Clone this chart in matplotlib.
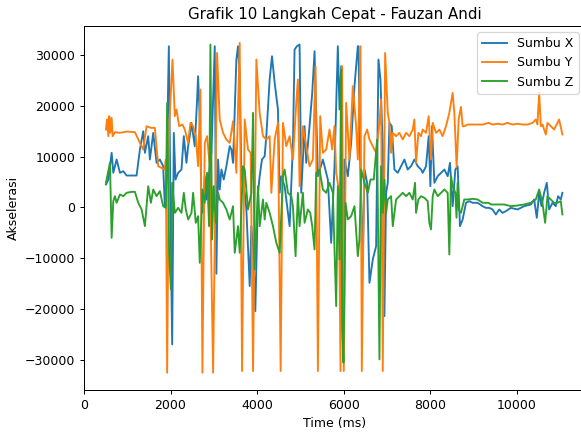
import matplotlib
matplotlib.use("Agg")
from matplotlib import pyplot as plt

# Sumbu X (biru)
t_x = [508, 562, 639, 677, 754, 831, 908, 985, 1100, 1215, 1292, 1369, 1408, 1484, 1523,
       1600, 1677, 1754, 1830, 1869, 1907, 1961, 2007, 2038, 2076, 2115, 2176, 2253, 2307,
       2368, 2407, 2445, 2484, 2560, 2614, 2637, 2676, 2714, 2753, 2791, 2830, 2907, 2945,
       3022, 3060, 3099, 3137, 3176, 3230, 3291, 3368,
       3407, 3445, 3522, 3560, 3599, 3638, 3714, 3753, 3830, 3868, 3907, 3960, 4022, 4060,
       4114, 4176, 4214, 4291, 4345, 4407, 4483, 4522, 4560, 4637, 4714, 4753, 4830,
       4867, 4921, 4983, 5021, 5098, 5137, 5213, 5275, 5329, 5406, 5521, 5636, 5713, 5790,
       5867, 5906, 5944, 5982, 6021, 6098, 6175, 6252, 6329, 6344,
       6390, 6444, 6483, 6544, 6598, 6675, 6752, 6806, 6852, 6906, 6944, 6983, 7021, 7060,
       7113, 7175, 7252, 7329, 7406, 7482, 7559, 7636, 7713, 7790,
       7829, 7906, 7967, 8006, 8044, 8098, 8175, 8252, 8329, 8406, 8459, 8521, 8583, 8636,
       8690, 8752, 8829, 8906, 8982, 9098, 9213, 9290,
       9366, 9443, 9520, 9597, 9674, 9751, 9866, 10020, 10174, 10328, 10405, 10466, 10520,
       10574, 10635, 10697, 10751, 10828, 10904, 10958, 11020, 11058]
acc_x = [4510, 5490, 10720, 6800, 9410, 6800, 7120, 6270, 6270, 6270, 11370, 14970, 10720, 13990, 9410,
         14640, 8760, 9410, 8100, 260, 6140, 31630, -6930, -26860, 14640, 5490, 6800, 7450, 13990,
         8760, 12030, 13990, 16600, 12030, 21180, 25750, 17260, 1570, -1050, 6140, 1570, 8100, 10720,
         31630, -13000, 9410, 3530, 7450, 5490, 8100, 12030,
         11370, 8760, 29020, 31630, 25750, 6140, 2880, -390, -15420, -3660, -7580, -20330, 2880, 6140,
         9410, 10070, 13990, 25100, 29670, 24440, 19220, 2880, 6140, 4180, -1050, -3660, 12680,
         30980, 31630, 31960, 2880, 15950, 8760, 15950, 22480, 30650, 6140, 9410, 5490, -6930, 8100,
         31630, 19220, 27710, -25880, 9410, 6140, 12680, 23790, 31630, 31630,
         6140, -10200, 7450, 4840, -14770, -10200, -7580, 29020, 25100, 12030, -21310, 2880, 4840, 16600,
         15950, 7450, 6800, 8100, 9410, 7450, 8100, 9410, 8100, 7450,
         6800, 8100, 13990, 4180, 15950, 4840, 6140, 6800, 7450, 6140, 8760, 260, 7450, 8100,
         -3660, -2350, 920, 1240, 920, 920, 260, -70,
         -70, -390, -1370, -390, -1050, -720, -70, -390, 260, 590, 1570, -2030, 2880,
         260, 2880, 4840, -390, 920, 260, 2220, 1570, 2880]

# Sumbu Y (oranye)
t_y = [508, 531, 562, 585, 608, 639, 662, 715, 831, 985, 1177, 1292, 1369, 1446, 1546,
       1638, 1715, 1792, 1869, 1891, 1922, 1968, 2045, 2099, 2138, 2199, 2276, 2330, 2407,
       2460, 2522, 2584, 2637, 2691, 2737, 2791, 2845, 2907, 2984, 3076, 3137, 3214, 3291,
       3368, 3445, 3522, 3599, 3653, 3714, 3791, 3853, 3907, 3984, 4060, 4137, 4214, 4291,
       4330, 4407, 4483, 4545, 4599, 4676, 4753, 4829, 4906, 4944, 4983, 5060, 5137, 5213,
       5290, 5352, 5406, 5460, 5521, 5598, 5675, 5736, 5790, 5829, 5890, 5929, 5967, 6005,
       6059, 6136, 6213, 6290, 6329, 6344, 6390, 6421, 6483, 6544, 6598, 6675, 6752, 6829,
       6867, 6906, 6960, 7021, 7060, 7098, 7137, 7214, 7290, 7367, 7444, 7521, 7598, 7636,
       7675, 7729, 7790, 7829, 7906, 7967, 8021, 8060, 8137, 8213, 8290, 8367, 8444, 8521,
       8560, 8613, 8660, 8713, 8752, 8790, 8867, 8982, 9098, 9213, 9352, 9443, 9559, 9674,
       9789, 9904, 10020, 10136, 10251, 10366, 10443, 10481, 10520, 10559, 10597, 10674,
       10712, 10789, 10866, 10943, 10981, 11058]
acc_y = [15290, 17260, 13990, 17910, 14640, 17580, 13990, 14770, 14640, 14900, 14770, 12680, 11370, 15950, 15620,
         15620, 8100, 7780, 7450, 9410, -32420, 15950, 29020, 17910, 19220, 15950, 16270, 15290, 12680,
         16600, 15950, 13990, 8100, 23140, -32420, 12680, 13990, 8100, -32420, 30330, 17260, 14640, 13330,
         12680, 16930, 6800, 32290, -32090, 17260, 11370, 10720, -32090, 29020, 18560, 13990, 13330, 13990,
         2880, 13330, 16600, -32090, 16600, 12030, 13990, 9410, 20520, 25100, 4180, 15950, 12030, 8100,
         9410, 27710, -32090, 17910, 10720, 11370, 15290, 11370, 15950, 6800, 3530, -32090, 27710, -32090,
         20520, 9410, 23790, 15950, 9410, 14640, 31630, -32090, 13990, 15290, 13330, 12030, 10720, 16600,
         21180, -32090, 30330, 18560, 16600, 10720, 14640, 13990, 14640, 13330, 14640, 13990, 15290, 17260,
         8760, 14640, 13990, 15290, 14640, 17910, 9410, 16600, 14640, 15290, 13990, 15950, 18560, 22480,
         18560, 7960, 17260, 19730, 15950, 15950, 16270, 16270, 16270, 16270, 16600, 16270, 16430, 16270,
         16600, 16270, 16430, 16270, 16270, 16600, 17260, 16270, 22480, 15950, 16270, 14310,
         16600, 15950, 15290, 16600, 17260, 14310]

# Sumbu Z (hijau)
t_z = [508, 600, 639, 677, 715, 754, 831, 908, 985, 1100, 1177, 1254, 1331, 1408, 1484,
       1546, 1600, 1677, 1754, 1830, 1892, 1922, 1968, 2007, 2038, 2099, 2176, 2253, 2307,
       2353, 2407, 2484, 2522, 2584, 2637, 2676, 2737, 2791, 2845, 2891, 2922, 2960, 2999,
       3045, 3099, 3137, 3214, 3291, 3368, 3445, 3484, 3560, 3599, 3676, 3714, 3791, 3868,
       3907, 3945, 4022, 4060, 4099, 4137, 4176, 4214, 4291, 4368, 4445, 4522, 4599, 4637,
       4714, 4791, 4829, 4890, 4944, 4983, 5060, 5098, 5175, 5229, 5275, 5329, 5367, 5444,
       5521, 5598, 5675, 5752, 5829, 5867, 5906, 5944, 5967, 5998, 6044, 6098, 6175, 6252,
       6329, 6367, 6406, 6483, 6560, 6621, 6698, 6775, 6829, 6867, 6906, 6944, 6983, 7021,
       7098, 7137, 7214, 7290, 7367, 7444, 7521, 7598, 7652, 7675, 7729, 7790, 7867, 7944,
       7983, 8021, 8060, 8098, 8175, 8252, 8329, 8406, 8444, 8483, 8521, 8583, 8610, 8636,
       8665, 8713, 8790, 8867, 8982, 9098, 9213, 9352, 9405, 9559, 9712, 9866, 10020, 10174,
       10328, 10443, 10520, 10597, 10658, 10712, 10789, 10866, 10943, 11020, 11058]
acc_z = [4840, 8760, -5950, 1240, 2220, 920, 2550, 2220, 2880, 3070, 3070, 920, -390, -3660, 4180,
         920, 3530, 2220, 3200, 260, -70, 20520, -8890, -16080, 4840, -1050, -70, -1050, 2880,
         -390, -2350, -1050, 2880, -3010, -1700, -10850, 3530, 920, 6800, -3660, 31960, -6270, 4180,
         -3010, 2880, 1570, 920, -390, -2350, 260, -8890, -3660, -8890, 8100, 7450, -390, 2880,
         18560, -12160, 4180, -3660, -1050, 1570, -2350, 920, -1050, -3660, -6930, -8890, 6140, 7450,
         2880, 2220, 260, -9540, 2880, -3660, 2880, -3010, -390, -1050, -3660, -8240, 6800, 7450,
         3530, 2880, 4840, 2880, -19350, 4180, -10200, 27060, -23270, -30460, 920, -2350, -1700, 260,
         -9540, -6270, 7450, 4840, 2880, 5490, 5490, 13330, -29800, 8100, -1050, 5490, -1050, 1570,
         2220, -3660, 1570, 2220, 2880, 2220, 2880, 1570, 4840, -1050, 1570, 2220, 1900, 1240,
         -3010, -4310, 2220, 3530, 2220, 2880, 3530, 2880, -9220, 6140, 4180, 2880, -2000, 4840,
         -500, -1050, 1570, 1570, 1700, 1570, 920, 920, 590, 590, 590, 260, 390, 590,
         920, 1570, 3530, 920, -3010, 2220, 1570, 920, 920, 1240, -1370]

# gambar asli kelihatannya disimpan pada dpi 90
fig = plt.figure(figsize=(581 / 90, 432 / 90), dpi=90)
ax = fig.add_axes([84 / 581, 42 / 432, 501 / 581, 364 / 432])

ax.plot(t_x, acc_x, label="Sumbu X")
ax.plot(t_y, acc_y, label="Sumbu Y")
ax.plot(t_z, acc_z, label="Sumbu Z")

ax.set_xlim(0, 11580)
ax.set_ylim(-35800, 35600)
ax.set_title("Grafik 10 Langkah Cepat - Fauzan Andi")
ax.set_xlabel("Time (ms)")
ax.set_ylabel("Akselerasi")
ax.legend(loc="upper right")

fig.savefig("out.png", dpi=90)
